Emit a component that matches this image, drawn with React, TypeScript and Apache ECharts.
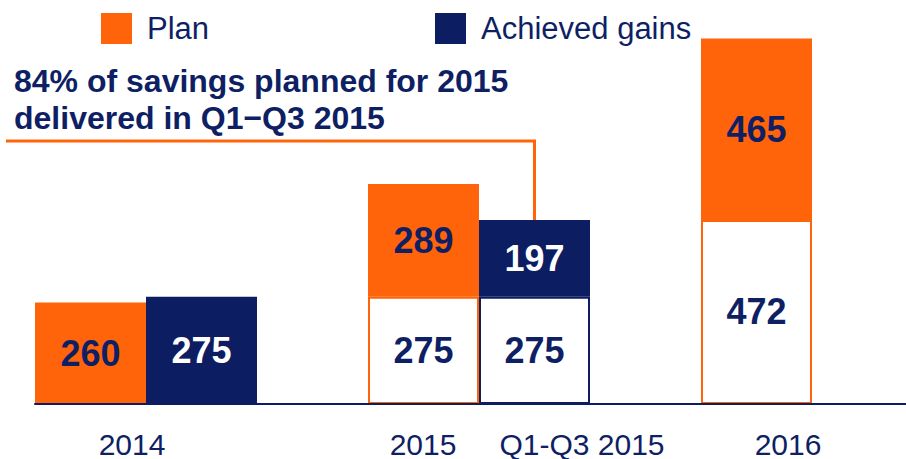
import React, { useEffect, useRef } from "react";
import * as echarts from "echarts";

// ---- data ----
const slots = ["2014 Plan", "2014 Achieved", "gap1", "2015", "Q1-Q3 2015", "gap2", "2016"];
const xLabels = ["2014", "2015", "Q1-Q3 2015", "2016"];
const planValues: (number | null)[] = [260, null, null, 289, null, null, 465];
const baseValues: (number | null)[] = [null, null, null, 275, 275, null, 472];
const achievedValues: (number | null)[] = [null, 275, null, null, 197, null, null];
const annotationLines = ["84% of savings planned for 2015", "delivered in Q1\u2212Q3 2015"];
const seriesNames = ["Plan", "Achieved gains"];

// ---- styles ----
const ORANGE = "#FF640A";
const NAVY = "#0C1D62";
const TEXT = "#0F1F64";
const FONT = "'Liberation Sans', Arial, Helvetica, sans-serif";
const xLabelCenters = [132, 423, 582, 788];

export default function App() {
  const ref = useRef<HTMLDivElement>(null);

  useEffect(() => {
    if (!ref.current) return;
    const chart = echarts.init(ref.current, undefined, { renderer: "svg" });

    const barLabel = (color: string) => ({
      show: true,
      position: "inside" as const,
      color,
      fontSize: 36,
      fontWeight: "bold" as const,
      fontFamily: FONT,
    });

    const legendCommon = {
      top: 8,
      itemWidth: 31,
      itemHeight: 31,
      icon: "rect",
      selectedMode: false,
      textStyle: { fontSize: 31, color: TEXT, fontFamily: FONT, padding: [0, 0, 0, 10] },
    };

    chart.setOption({
      animation: false,
      backgroundColor: "#FFFFFF",
      legend: [
        { ...legendCommon, left: 96, data: [seriesNames[0]] },
        { ...legendCommon, left: 430, data: [seriesNames[1]] },
      ],
      grid: { left: 35, top: 14, height: 390, width: 777, containLabel: false },
      xAxis: {
        type: "category",
        data: slots,
        z: 10,
        axisLine: { show: true, lineStyle: { color: NAVY, width: 2 } },
        axisTick: { show: false },
        axisLabel: { show: false },
        splitLine: { show: false },
      },
      yAxis: { type: "value", min: 0, max: 1000, show: false, splitLine: { show: false } },
      series: [
        {
          name: "Base",
          type: "bar",
          stack: "total",
          barWidth: "100%",
          data: baseValues.map((v, i) =>
            v == null
              ? "-"
              : {
                  value: v,
                  itemStyle: {
                    color: "#FFFFFF",
                    borderColor: slots[i] === "Q1-Q3 2015" ? NAVY : ORANGE,
                    borderWidth: 2,
                  },
                }
          ),
          label: barLabel(TEXT),
        },
        {
          name: seriesNames[0],
          type: "bar",
          stack: "total",
          barWidth: "100%",
          itemStyle: { color: ORANGE },
          data: planValues.map((v) => (v == null ? "-" : v)),
          label: barLabel(TEXT),
        },
        {
          name: seriesNames[1],
          type: "bar",
          stack: "total",
          barWidth: "100%",
          itemStyle: { color: NAVY },
          data: achievedValues.map((v) => (v == null ? "-" : v)),
          label: barLabel("#FFFFFF"),
        },
      ],
    });

    // connector from the annotation to the top of the Q1-Q3 2015 bar
    const qi = slots.indexOf("Q1-Q3 2015");
    const qTop = (baseValues[qi] || 0) + (achievedValues[qi] || 0);
    const pt = chart.convertToPixel({ gridIndex: 0 }, [qi, qTop]) as number[];
    const origin = chart.convertToPixel({ gridIndex: 0 }, [slots.length - 1, 0]) as number[];
    const lineY = 141;

    chart.setOption({
      graphic: [
        {
          type: "line",
          z: 10,
          shape: { x1: origin[0], y1: origin[1], x2: 906, y2: origin[1] },
          style: { stroke: NAVY, lineWidth: 2 },
        },
        {
          type: "polyline",
          z: 5,
          shape: { points: [[6, lineY], [pt[0], lineY], [pt[0], pt[1]]] },
          style: { stroke: ORANGE, lineWidth: 3, fill: null },
        },
        {
          type: "text",
          x: 14,
          y: 62,
          z: 5,
          style: {
            text: annotationLines.join("\n"),
            fontSize: 32,
            fontWeight: "bold",
            fontFamily: FONT,
            lineHeight: 37,
            fill: TEXT,
            verticalAlign: "top",
          },
        },
        ...xLabels.map((t, i) => ({
          type: "text",
          x: xLabelCenters[i],
          y: 444,
          z: 5,
          style: {
            text: t,
            fontSize: 30,
            fontFamily: FONT,
            fill: TEXT,
            align: "center",
            verticalAlign: "middle",
          },
        })),
      ],
    });

    return () => chart.dispose();
  }, []);

  return (
    <div
      ref={ref}
      style={{ position: "fixed", left: 0, top: 0, width: 906, height: 459, background: "#fff" }}
    />
  );
}
